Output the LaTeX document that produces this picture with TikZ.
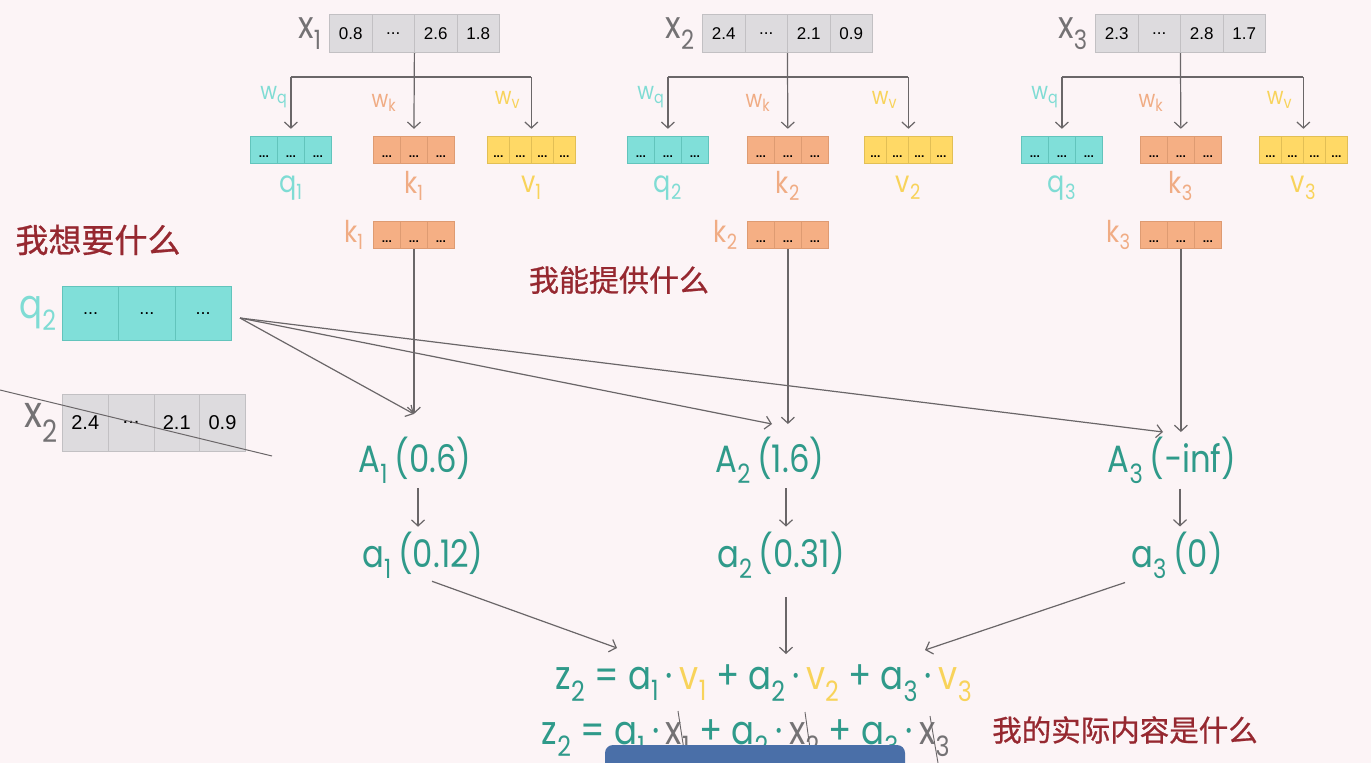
\documentclass[tikz,border=0pt]{standalone}
\usepackage{fontspec}
\setmainfont{Liberation Sans}
\newfontfamily\labelfont[FakeStretch=0.85]{Poppins}
\newfontfamily\cjk[FakeBold=0.8]{Noto Sans CJK SC}
\usetikzlibrary{arrows.meta, calc, fit, positioning}

\definecolor{bg}{HTML}{FCF4F6}
\definecolor{tealtext}{HTML}{2F9A8A}
\definecolor{qfill}{HTML}{80DFD9}
\definecolor{qline}{HTML}{62C4BC}
\definecolor{qtext}{HTML}{7FDCD4}
\definecolor{kfill}{HTML}{F5AF84}
\definecolor{kline}{HTML}{DE9B72}
\definecolor{ktext}{HTML}{F0AC84}
\definecolor{vfill}{HTML}{FFD966}
\definecolor{vline}{HTML}{E2BF55}
\definecolor{vtext}{HTML}{F8D35A}
\definecolor{xfill}{HTML}{DDDBDE}
\definecolor{xline}{HTML}{C2C0C3}
\definecolor{xtext}{HTML}{747274}
\definecolor{arrowgray}{HTML}{6A6668}
\definecolor{redtext}{HTML}{962830}
\definecolor{banner}{HTML}{4A6FA8}

\newcommand{\sub}[1]{\textsubscript{#1}}
\newcommand{\ddd}{...}
\newcommand{\lowdots}{\raisebox{-8pt}[0pt][0pt]{\fontsize{12}{12}\selectfont\textbf{\ddd}}}

% row of cells: name, left x, top y, cell width, height, style, list of texts
\newcommand{\cellvec}[7]{%
  \foreach \celltext [count=\i] in #7 {
    \node[#6, minimum width=#4pt, minimum height=#5pt, anchor=north west]
      (#1c\i) at ({#2+(\i-1)*#4},#3) {\celltext};
    \xdef\lastcell{\i}
  }
  \node[inner sep=0pt, fit=(#1c1)(#1c\lastcell)] (#1) {};
}

\tikzset{
  cell/.style={draw, line width=0.8pt, inner sep=0pt},
  xcell/.style={cell, fill=xfill, draw=xline, font=\fontsize{17}{17}\selectfont},
  qcell/.style={cell, fill=qfill, draw=qline},
  kcell/.style={cell, fill=kfill, draw=kline},
  vcell/.style={cell, fill=vfill, draw=vline},
  lab/.style={inner sep=1pt, font=\labelfont\fontsize{30}{30}\selectfont},
  xlab/.style={lab, text=xtext, font=\labelfont\fontsize{38}{38}\selectfont},
  wlab/.style={lab, font=\labelfont\fontsize{24}{24}\selectfont},
  teallab/.style={lab, text=tealtext, font=\labelfont\fontsize{38}{38}\selectfont},
  note/.style={text=redtext, inner sep=1pt},
  line/.style={draw=arrowgray, line width=1.2pt},
  arr/.style={line, -{Straight Barb[length=6pt, width=13pt, line width=1.2pt]}}
}

\begin{document}
\begin{tikzpicture}[x=1pt, y=-1pt]
  \clip (0,0) rectangle (1371,763);
  \fill[bg] (0,0) rectangle (1371,763);
  \coordinate (bar) at (0,77);

  % three columns: x -> q, k, v
  \foreach \n/\xl/\ql/\kl/\vl/\ty/\cells in {
      1/329/250/373/487/414/{0.8,\ddd,2.6,1.8},
      2/702/627/747/864/424/{2.4,\ddd,2.1,0.9},
      3/1095/1021/1140/1259/432/{2.3,\ddd,2.8,1.7}} {
    \cellvec{x\n}{\xl}{14}{42.5}{38}{xcell}{\cells}
    \node[xlab, left=6pt of x\n] {x\sub{\n}};
    \cellvec{q\n}{\ql}{136}{27}{27}{qcell}{{\lowdots,\lowdots,\lowdots}}
    \cellvec{k\n}{\kl}{136}{27}{27}{kcell}{{\lowdots,\lowdots,\lowdots}}
    \cellvec{v\n}{\vl}{136}{22}{27}{vcell}{{\lowdots,\lowdots,\lowdots,\lowdots}}
    % branches
    \draw[line] (q\n.north |- bar) -- (v\n.north |- bar);
    \draw[arr, shorten >=7pt] (x\n.south) -- (k\n.north);
    \draw[arr, shorten >=7pt] (q\n.north |- bar) -- (q\n.north);
    \draw[arr, shorten >=7pt] (v\n.north |- bar) -- (v\n.north);
    \node[wlab, text=qtext] at ($(q\n.north |- bar)+(-17,20)$) {w\sub{q}};
    \node[wlab, text=ktext] at ($(k\n.north |- bar)+(-30,26)$) {w\sub{k}};
    \node[wlab, text=vtext] at ($(v\n.north |- bar)+(-24,23)$) {w\sub{v}};
    \node[lab, text=qtext] at ($(q\n.south)+(0,24)$) {q\sub{\n}};
    \node[lab, text=ktext] at ($(k\n.south)+(0,22)$) {k\sub{\n}};
    \node[lab, text=vtext] at ($(v\n.south)+(0,24)$) {v\sub{\n}};
    % keys
    \cellvec{kb\n}{\kl}{221}{27}{27}{kcell}{{\lowdots,\lowdots,\lowdots}}
    \node[lab, text=ktext, left=8pt of kb\n] {k\sub{\n}};
    \coordinate (t\n) at (kb\n.south |- 0,\ty);
    \draw[arr] (kb\n.south) -- (t\n);
  }

  % query of x2
  \cellvec{qq}{62}{286}{56.33}{54}{qcell, font=\fontsize{18}{18}\selectfont}{{\ddd,\ddd,\ddd}}
  \node[lab, text=qtext, font=\labelfont\fontsize{40}{40}\selectfont, left=4pt of qq] {q\sub{2}};
  \cellvec{xx}{62}{394}{45.75}{57}{xcell, font=\fontsize{20}{20}\selectfont}{{2.4,\ddd,2.1,0.9}}
  \node[xlab, font=\labelfont\fontsize{44}{44}\selectfont, left=3pt of xx] {x\sub{2}};
  \draw[arrowgray, line width=1pt] (0,390) -- (272,456);

  \coordinate (qs) at (240,318);
  \coordinate (s2) at (772,424);
  \coordinate (s3) at (1163,432);
  \draw[arr] (qs) -- (t1);
  \draw[arr] (qs) -- (s2);
  \draw[arr] (qs) -- (s3);

  % scores and weights
  \node[teallab] (A1) at (415,460) {A\sub{1}\,(0.6)};
  \node[teallab] (A2) at (770,460) {A\sub{2}\,(1.6)};
  \node[teallab] (A3) at (1172,460) {A\sub{3}\,(−inf)};
  \node[teallab] (a1) at (423,555) {a\sub{1}\,(0.12)};
  \node[teallab] (a2) at (781,555) {a\sub{2}\,(0.31)};
  \node[teallab] (a3) at (1177,555) {a\sub{3}\,(0)};
  \foreach \n/\dx in {1/3,2/16,3/8}
    \draw[arr, shorten <=4pt, shorten >=4pt] ([xshift=\dx pt]A\n.south) -- ([xshift=\dx pt]A\n.south |- a\n.north);

  % weighted sum
  \node[teallab, font=\labelfont\fontsize{40}{40}\selectfont] (z) at (764,683)
    {z\sub{2} = a\sub{1}\,·\,\textcolor{vtext}{v\sub{1}} + a\sub{2}\,·\,\textcolor{vtext}{v\sub{2}} + a\sub{3}\,·\,\textcolor{vtext}{v\sub{3}}};
  \node[teallab, font=\labelfont\fontsize{40}{40}\selectfont] (zx) at (746,738)
    {z\sub{2} = a\sub{1}\,·\,\textcolor{xtext}{x\sub{1}} + a\sub{2}\,·\,\textcolor{xtext}{x\sub{2}} + a\sub{3}\,·\,\textcolor{xtext}{x\sub{3}}};
  \draw[arrowgray, line width=0.9pt] (678,711) -- (686,763);
  \draw[arrowgray, line width=0.9pt] (805,712) -- (812,763);
  \draw[arrowgray, line width=0.9pt] (930,716) -- (938,763);

  \coordinate (e1) at (617,648);
  \coordinate (e2) at (786,654);
  \coordinate (e3) at (925,650);
  \draw[arr] ([xshift=9pt, yshift=-2pt]a1.south) -- (e1);
  \draw[arr] (a2.south -| e2) ++(0,18) -- (e2);
  \draw[arr] ([xshift=-52pt, yshift=-3pt]a3.south) -- (e3);

  % notes
  \node[note, font=\cjk\fontsize{33}{33}\selectfont] (want) at (98,240) {我想要什么};
  \node[note, font=\cjk\fontsize{30}{30}\selectfont] (offer) at (619,280) {我能提供什么};
  \node[note, font=\cjk\fontsize{29.5}{29.5}\selectfont] (have) at (1125,730) {我的实际内容是什么};

  \fill[banner, rounded corners=8pt] (605,745) rectangle (905,800);
\end{tikzpicture}
\end{document}
